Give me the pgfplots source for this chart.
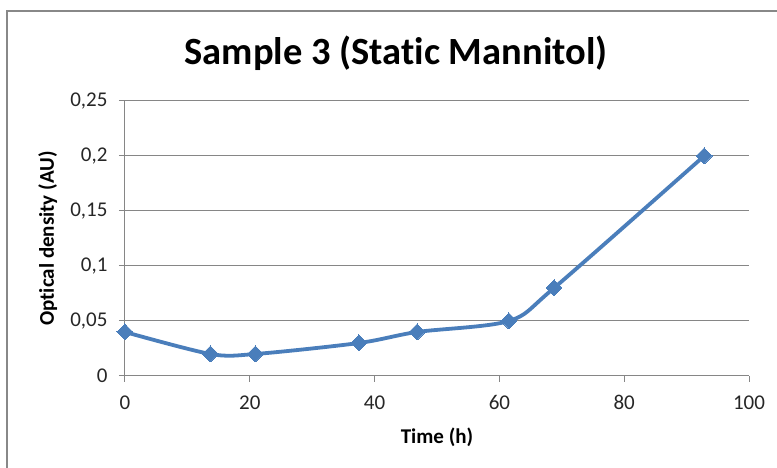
\documentclass[border=0pt]{standalone}
\usepackage{pgfplots}
\pgfplotsset{compat=1.18}
\usepackage{fontspec}
\setmainfont{Carlito}[Ligatures={NoCommon}]
\definecolor{serblue}{HTML}{4A7EBB}
\definecolor{gridgray}{HTML}{868686}
\definecolor{framegray}{HTML}{888888}

\pgfplotstableread{
t     od
0     0.04
13.7  0.02
20.9  0.02
37.5  0.03
46.8  0.04
61.5  0.05
68.75 0.08
92.8  0.20
}\samplethree

\begin{document}
\begin{tikzpicture}
\path[use as bounding box] (-125pt,-92pt) rectangle (652pt,376pt);
% chart area frame and title
\draw[framegray, line width=2pt] (-117.5pt,-120pt) -- (-117.5pt,365pt) -- (680pt,365pt);
\node[font=\bfseries\fontsize{38.5}{44}\selectfont, anchor=center] at (271pt,323pt) {Sample 3 (Static Mannitol)};
\begin{axis}[
  scale only axis,
  width=624pt, height=275pt,
  at={(0,0)}, anchor=south west,
  xmin=0, xmax=100, ymin=0, ymax=0.25,
  xtick={0,20,...,100},
  ytick={0,0.05,0.1,0.15,0.2,0.25},
  yticklabels={0,{0,05},{0,1},{0,15},{0,2},{0,25}},
  xticklabels={0,20,40,60,80,100},
  axis x line*=bottom, axis y line*=left,
  axis line style={gridgray, line width=1pt, -},
  ymajorgrids, grid style={gridgray, line width=1pt},
  tick style={gridgray, line width=1pt},
  tick align=outside, major tick length=6pt,
  ticklabel style={font=\fontsize{21}{25}\selectfont, text=black!85},
  yticklabel style={xshift=-8pt},
  xticklabel style={yshift=-10pt},
  xlabel={\textbf{Time (h)}},
  ylabel={\textbf{Optical density (AU)}},
  label style={font=\fontsize{21}{25}\selectfont},
  xlabel style={at={(axis description cs:0.5,-0.222)}, anchor=center},
  ylabel style={at={(axis description cs:-0.124,0.5)}, anchor=center},
  clip=false,
]
\addplot[serblue, line width=3.8pt, smooth, tension=0.5,
  mark=diamond*, mark size=8pt,
  mark options={xscale=1.333, line width=0pt, fill=serblue, draw=serblue}]
  table[x=t, y=od] {\samplethree};
\end{axis}
\end{tikzpicture}
\end{document}
